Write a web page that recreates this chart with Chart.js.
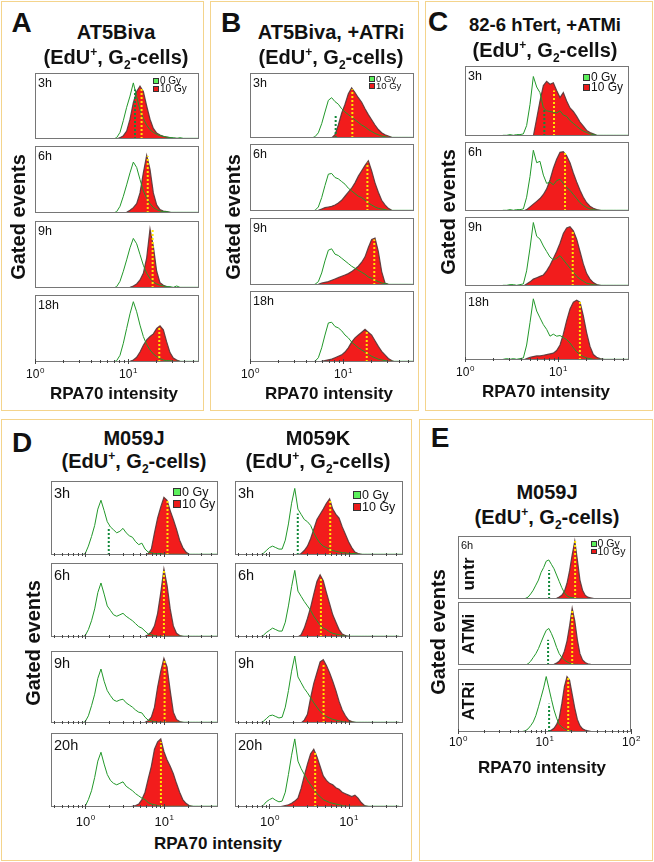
<!DOCTYPE html>
<html>
<head>
<meta charset="utf-8">
<script src="https://cdn.jsdelivr.net/npm/chart.js@4.4.1/dist/chart.umd.min.js"></script>
<style>
  body { margin: 0; background: #fff; font-family: "Liberation Sans", Arial, sans-serif; color: #111; }
  #page { position: relative; width: 654px; height: 862px; overflow: hidden; }
  .box { position: absolute; border: 1.5px solid #f4d48c; box-sizing: border-box; }
  .c { position: absolute; white-space: nowrap; font-weight: bold; transform: translate(-50%, -50%); line-height: 1; }
  .row { position: absolute; white-space: nowrap; line-height: 1; }
  sup, sub { font-size: 0.6em; line-height: 0; }
  canvas { position: absolute; }
</style>
</head>
<body>
<div id="page"></div>
<script>
const n = null;
const doses = ['0 Gy', '10 Gy'];

// RPA70 intensity bins (bin centres, log axis)
const binsABC = [2.19, 2.38, 2.58, 2.81, 3.05, 3.31, 3.59, 3.90, 4.24, 4.60, 5.00, 5.43, 5.90, 6.40, 6.96, 7.55, 8.20, 8.91, 9.67, 10.51,
  11.41, 12.39, 13.46, 14.62, 15.88, 17.25, 18.73, 20.34, 22.09, 23.99, 26.06, 28.29, 30.73, 33.37, 36.24, 39.36, 42.75, 46.42, 50.42, 54.76, 58.0];
const binsD = [0.759, 0.832, 0.912, 1.0, 1.096, 1.202, 1.318, 1.445, 1.585, 1.738, 1.905, 2.089, 2.291, 2.512, 2.754, 3.020, 3.311, 3.631, 3.981, 4.365,
  4.786, 5.248, 5.754, 6.310, 6.918, 7.586, 8.318, 9.120, 10.0, 10.96, 12.02, 13.18, 14.45, 15.85, 17.38, 19.05, 20.89, 22.91, 25.12, 27.54,
  30.20, 33.11, 36.31, 39.81, 43.65, 47.86];
const binsE = [5.25, 5.62, 6.03, 6.46, 6.92, 7.41, 7.94, 8.51, 9.12, 9.77, 10.47, 11.22, 12.02, 12.88, 13.80, 14.79, 15.85, 16.98, 18.20, 19.50,
  20.89, 22.39, 23.99, 25.70, 27.54, 29.51, 31.62, 33.88, 36.31, 38.90, 41.69];

// tick values
const ticksABC = [1, 2, 3, 4, 5, 6, 7, 8, 9, 10, 20, 30, 40, 50];
const ticksD = [0.4, 0.5, 0.6, 0.7, 0.8, 0.9, 1, 2, 3, 4, 5, 6, 7, 8, 9, 10, 20, 30, 40];
const ticksE = [1, 2, 3, 4, 5, 6, 7, 8, 9, 10, 20, 30, 40, 50, 60, 70, 80, 90, 100];
const majorTicks = [1, 10, 100];

// A: AT5Biva (events, % of frame height)
const rowsA = ['3h', '6h', '9h', '18h'];
const a3g = [n,n,n,n,n,n,n,n,n,n,n,n,n,n, 0,2,10,28,48,65,85,64,44,31,21,14,10,7,5,4,3,2,2,1,2,1,1,1,1,1,1];
const a3r = [n,n,n,n,n,n,n,n,n,n,n,n,n,n,n, 0,2,5,12,30,55,72,80,72,50,30,16,9,6,4,3,2,1,1,0, n,n,n,n,n,n];
const a6g = [n,n,n,n,n,n,n,n,n,n,n,n,n,n, 0,2,10,25,42,60,76,68,50,33,22,14,8,5,3,2,2,1,1,1,1,1,1,1,1,1,1];
const a6r = [n,n,n,n,n,n,n,n,n,n,n,n,n,n,n,n,n, 0,1,4,8,14,30,60,86,65,30,12,5,3,2,1,0, n,n,n,n,n,n,n,n];
const a9g = [n,n,n,n,n,n,n,n,n,n,n,n,n,n, 0,2,10,25,42,60,74,66,50,34,22,14,9,6,4,3,2,2,1,3,1,1,1,1,1,1,1];
const a9r = [n,n,n,n,n,n,n,n,n,n,n,n,n,n,n,n,n,n, 0,1,3,6,12,22,45,88,62,25,8,4,2,1,0, n,n,n,n,n,n,n,n];
const a18g = [n,n,n,n,n,n,n,n,n,n,n,n,n,n, 0,2,10,28,50,72,90,75,55,38,26,18,12,8,5,3,2,2,1,1,1,1,1,1,1,1,1];
const a18r = [n,n,n,n,n,n,n,n,n,n,n,n,n,n,n,n,n,n, 0,1,3,7,15,25,33,38,42,50,54,48,30,14,6,3,1,0, n,n,n,n,n];
const medYA = [14.0, 16.3, 18.4, 21.7], medYHA = [78, 85, 88, 54];
const medGA = [11.9, n, n, n], medGHA = [75, n, n, n];

// B: AT5Biva, +ATRi
const rowsB = ['3h', '6h', '9h', '18h'];
const b3g = [n,n,n,n,n,n,n,n,n, 0,2,8,22,40,58,62,56,52,45,40,36,32,28,24,20,17,13,10,7,5,3,2,1,1,1,1,1,1,1,1,1];
const b3r = [n,n,n,n,n,n,n,n,n,n,n,n,n,n,n, 0,5,20,38,52,68,77,70,62,55,45,36,28,20,13,8,5,3,1,0, n,n,n,n,n,n];
const b6g = [n,n,n,n,n,n,n,n,n, 0,1,6,20,38,55,56,50,48,44,40,34,30,26,22,20,16,12,9,6,4,3,2,1,1,1,1,1,1,1,1,1];
const b6r = [n,n,n,n,n,n,n,n,n,n, 0,1,3,5,6,7,9,12,16,22,28,34,42,52,60,68,75,60,42,28,16,9,4,1,0, n,n,n,n,n,n];
const b9g = [n,n,n,n,n,n,n,n,n, 0,1,5,18,36,52,54,46,44,40,36,32,28,25,22,19,16,12,10,7,5,3,2,1,1,1,1,1,1,1,1,1];
const b9r = [n,n,n,n,n,n,n,n,n,n, 0,1,3,4,5,7,9,11,13,15,17,20,24,28,34,42,56,68,70,50,20,3,1,0, n,n,n,n,n,n,n];
const b18g = [n,n,n,n,n,n,n,n,n, 0,1,6,20,38,55,56,50,48,44,38,34,28,24,20,17,14,11,8,6,4,3,2,1,1,1,1,1,1,1,1,1];
const b18r = [n,n,n,n,n,n,n,n,n,n,n, 0,1,2,3,4,6,8,10,14,20,28,34,38,42,46,42,38,30,22,15,10,5,2,0, n,n,n,n,n,n];
const medYB = [12.6, 18.3, 21.7, 18.0], medYHB = [75, 72, 68, 45];
const medGB = [8.34, n, n, n], medGHB = [35, n, n, n];

// C: 82-6 hTert, +ATMi
const rowsC = ['3h', '6h', '9h', '18h'];
const c3g = [n, 0,1,1,2,1,2,2,3,15,45,85,70,62,40,36,35,34,33,36,30,28,22,18,14,10,7,5,3,2,1,1,1,1,1,1,1,1,1,1,1];
const c3r = [n,n,n,n,n,n,n,n,n,n,n, 0,25,50,72,78,74,76,65,55,62,50,40,35,28,20,14,8,5,3,1,0, n,n,n,n,n,n,n,n,n];
const c6g = [n, 0,1,1,2,1,2,2,3,20,50,88,70,72,52,40,42,38,44,46,40,34,30,24,18,12,8,5,3,2,1,1,1,1,1,1,1,1,1,1,1];
const c6r = [n,n,n,n,n,n,n,n, 0,2,6,10,14,18,24,32,45,62,75,85,86,80,70,55,42,30,20,12,7,4,2,1,0, n,n,n,n,n,n,n,n];
const c9g = [n, 0,1,1,2,2,1,2,3,22,55,92,72,68,58,50,42,38,40,44,38,32,26,20,14,10,7,4,3,2,1,1,1,1,1,1,1,1,1,1,1];
const c9r = [n,n,n,n,n,n,n,n, 0,3,6,10,12,14,16,22,30,40,50,62,76,84,86,80,68,50,32,18,10,5,2,1,0, n,n,n,n,n,n,n,n];
const c18g = [n, 0,1,2,1,2,1,2,3,22,55,90,72,62,52,45,35,38,35,36,33,30,25,18,12,8,5,3,2,1,1,1,1,1,1,1,1,1,1,1,1];
const c18r = [n,n,n,n,n,n,n,n, 0,2,4,5,6,6,7,8,9,10,14,22,38,58,75,85,88,85,65,40,20,8,4,2,1,0, n,n,n,n,n,n,n];
const medYC = [9.06, 11.9, 14.4, 17.2], medYHC = [65, 84, 80, 86];
const medGC = [7.13, n, n, n], medGHC = [37, n, n, n];

// D: M059J and M059K
const rowsD = ['3h', '6h', '9h', '20h'];
const dj3g = [n,n, 0,2,12,25,40,62,74,60,45,38,34,30,32,36,30,26,24,18,14,16,8,4,3,2,2,2,1, 1,1,1,1,1,1,1,1,1,1,1,1,1,1,1,1,1];
const dj3r = [n,n,n,n,n,n,n,n,n,n,n,n,n,n,n,n,n,n,n,n,n,n, 0,2,8,30,50,65,78,74,60,48,35,20,10,4,1,0, n,n,n,n,n,n,n,n];
const dj6g = [n,n, 0,2,10,22,38,60,73,58,42,36,30,28,30,32,28,25,22,18,14,12,8,4,3,2,1,1,1, 1,1,1,1,1,1,1,1,1,1,1,1,1,1,1,1,1];
const dj6r = [n,n,n,n,n,n,n,n,n,n,n,n,n,n,n,n,n,n,n,n,n, 0,1,3,7,15,32,60,92,70,38,15,5,2,1,0, n,n,n,n,n,n,n,n,n,n];
const dj9g = [n,n, 0,2,10,24,40,62,75,58,45,38,32,30,32,33,28,25,22,18,15,14,8,4,3,2,1,1,1, 1,1,1,1,1,1,1,1,1,1,1,1,1,1,1,1,1];
const dj9r = [n,n,n,n,n,n,n,n,n,n,n,n,n,n,n,n,n,n,n,n,n, 0,1,3,8,22,50,72,90,78,45,15,5,2,1,0, n,n,n,n,n,n,n,n,n,n];
const dj20g = [n,n, 0,1,10,22,40,62,74,58,44,36,32,30,32,34,28,25,22,18,15,12,10,6,4,3,2,1,1, 1,1,1,1,1,1,1,1,1,1,1,1,1,1,1,1,1];
const dj20r = [n,n,n,n,n,n,n,n,n,n,n,n,n,n,n,n,n, 0,1,2,4,10,20,38,55,78,88,92,75,64,55,45,32,20,10,5,2,1,0, n,n,n,n,n,n,n];
const medYDJ = [11.1, 10.0, 10.2, 9.16], medYHDJ = [75, 90, 88, 88];
const medGDJ = [1.99, n, n, n], medGHDJ = [38, n, n, n];

const dk3g = [0,2,6,10,12,10,8,8,20,42,70,90,62,55,48,45,40,30,22,16,12,10,8,6,5,4,3,3,2,2,2, 1,1,1,1,1,1,1,1,1,1,1,1,1,1,1];
const dk3r = [n,n,n,n,n,n,n,n,n,n,n,n, 0,2,6,12,22,35,48,55,62,70,76,62,55,50,38,28,18,10,4,2,1,0, n,n,n,n,n,n,n,n,n,n,n,n];
const dk6g = [0,2,6,9,12,10,8,8,20,42,68,90,62,55,48,42,36,28,22,16,12,10,7,5,4,3,2, 1,1,1,1,1,1,1,1,1,1,1,1,1,1,1,1,1,1];
const dk6r = [n,n,n,n,n,n,n,n,n,n,n,n, 0,3,12,25,40,58,75,84,76,60,45,30,20,10,4,2,1,0, n,n,n,n,n,n,n,n,n,n,n,n,n,n,n,n];
const dk9g = [0,2,6,10,11,9,7,8,22,45,72,93,64,56,48,42,35,28,22,16,12,9,7,5,4,3,2, 1,1,1,1,1,1,1,1,1,1,1,1,1,1,1,1,1,1];
const dk9r = [n,n,n,n,n,n,n,n,n,n,n,n,n, 0,4,12,35,55,70,85,88,80,70,58,45,30,18,10,4,2,1,0, n,n,n,n,n,n,n,n,n,n,n,n,n,n];
const dk20g = [0,2,7,10,12,9,7,8,20,44,70,92,62,52,44,36,30,24,18,14,10,8,6,5,4,3,2, 1,1,1,1,1,1,1,1,1,1,1,1,1,1,1,1,1,1];
const dk20r = [n,n,n,n,n,n, 0,1,2,3,5,8,12,25,42,58,72,78,68,55,42,36,32,30,26,24,20,18,16,14,16,12,6,2,1,0, n,n,n,n,n,n,n,n,n,n];
const medYDK = [5.86, 4.47, 4.83, 3.78], medYHDK = [73, 80, 82, 75];
const medGDK = [2.28, n, n, n], medGHDK = [56, n, n, n];

// E: M059J, 6h, untr / ATMi / ATRi
const rowsE = ['untr', 'ATMi', 'ATRi'];
const eug = [n, 0,1,3,8,14,22,30,42,50,60,62,55,48,38,28,18,10,5,3,2,2,1,1,1,0, n,n,n,n,n];
const eur = [n,n,n,n,n,n,n,n,n,n,n,n,n, 0,1,3,6,12,25,45,70,92,62,30,14,6,3,2,1,0, n];
const eag = [n,n, 0,2,6,12,18,26,36,46,55,58,50,40,28,18,12,8,5,3,2,1,1,0, n,n,n,n,n,n,n];
const ear = [n,n,n,n,n,n,n,n,n,n,n,n, 0,1,3,6,12,22,38,62,90,70,40,18,8,4,2,1,0, n,n];
const etg = [0,1,2,5,10,16,26,40,55,70,88,70,52,35,22,12,8,5,3,2,1,1,0, n,n,n,n,n,n,n,n];
const etr = [n,n,n,n,n,n,n,n,n,n, 0,1,3,6,12,22,45,72,88,82,60,38,20,10,5,3,2,1,0, n,n];
const medYE = [22.6, 20.9, 18.8], medYHE = [92, 88, 88];
const medGE = [11.3, 11.0, 11.3], medGHE = [46, 40, 45];

const page = document.getElementById('page');
const PX = 14;
const FONT = '"Liberation Sans", Arial, sans-serif';

function frameTicks(ax) {
  return {
    id: 'frameTicks',
    afterDatasetsDraw(c) {
      const { ctx, chartArea: a } = c, sx = c.scales.x;
      ctx.save();
      ctx.strokeStyle = '#767676';
      ctx.lineWidth = 1;
      ctx.strokeRect(a.left + 0.5, a.top + 0.5, a.right - a.left - 1, a.bottom - a.top - 1);
      if (ax.ticks) {
        ctx.strokeStyle = '#444';
        ax.ticks.forEach(v => {
          const x = Math.round(sx.getPixelForValue(v)) + 0.5;
          const len = majorTicks.includes(v) ? 3 : 2;
          ctx.beginPath();
          ctx.moveTo(x, a.bottom - len);
          ctx.lineTo(x, a.bottom + len - 1);
          ctx.stroke();
        });
      }
      if (ax.labels) {
        ctx.fillStyle = '#111';
        ctx.textBaseline = 'middle';
        ctx.textAlign = 'left';
        majorTicks.filter(v => v >= sx.min * 0.999 && v <= sx.max * 1.001).forEach(v => {
          const x = sx.getPixelForValue(v), e = String(Math.round(Math.log10(v)));
          const f1 = ax.fs + 'px ' + FONT, f2 = Math.round(ax.fs * 0.65) + 'px ' + FONT;
          ctx.font = f1;
          const w1 = ctx.measureText('10').width;
          ctx.font = f2;
          const w2 = ctx.measureText(e).width;
          const x0 = x - (w1 + w2) / 2, y0 = a.bottom + ax.dy;
          ctx.font = f1;
          ctx.fillText('10', x0, y0);
          ctx.font = f2;
          ctx.fillText(e, x0 + w1 + 0.5, y0 - ax.fs * 0.35);
        });
      }
      ctx.restore();
    }
  };
}

function hist(fr, bins, green, red, med, xr, ax) {
  const [l, t, r, b] = fr;
  const pb = ax.labels ? 26 : 4;
  const w = r - l + 2 * PX, h = b - t + 4 + pb;
  const cv = document.createElement('canvas');
  cv.width = w;
  cv.height = h;
  cv.style.left = (l - PX) + 'px';
  cv.style.top = (t - 4) + 'px';
  page.appendChild(cv);
  const pts = v => bins.map((x, i) => ({ x, y: v[i] }));
  const vline = (x, y, col) => ({ data: [{ x, y: 0 }, { x, y }], borderColor: col, borderWidth: 2, borderDash: [2, 2], fill: false });
  const ds = [];
  if (med[0] != null) ds.push(vline(med[0], med[1], '#ffe600'));
  if (med[2] != null) ds.push(vline(med[2], med[3], '#12893a'));
  ds.push({ label: doses[0], data: pts(green), borderColor: '#22982a', borderWidth: 1, fill: false });
  ds.push({ label: doses[1], data: pts(red), borderColor: 'rgba(85,55,55,0.9)', borderWidth: 1.2, backgroundColor: '#f21c1c', fill: 'origin' });
  new Chart(cv, {
    type: 'line',
    data: { datasets: ds },
    options: {
      responsive: false, animation: false, devicePixelRatio: 1, events: [],
      layout: { padding: { left: PX, right: PX, top: 4, bottom: pb } },
      elements: { point: { radius: 0 }, line: { tension: 0 } },
      plugins: { legend: { display: false }, tooltip: { enabled: false } },
      scales: {
        x: { type: 'logarithmic', min: xr[0], max: xr[1], display: false },
        y: { min: 0, max: 100, display: false }
      }
    },
    plugins: [frameTicks(ax)]
  });
}

function el(cls, css, html) {
  const d = document.createElement('div');
  d.className = cls;
  d.style.cssText = css;
  d.innerHTML = html;
  page.appendChild(d);
}
const txt = (x, y, fs, html, rot) => el('c', `left:${x}px;top:${y}px;font-size:${fs}px;` + (rot ? 'transform:translate(-50%,-50%) rotate(-90deg);' : ''), html);

function legend(x, y, sq, gap, fs) {
  ['#5cf05c', '#ec1b1b'].forEach((col, i) => {
    el('row', `left:${x}px;top:${y + i * gap}px;font-size:${fs}px;line-height:${sq}px;`,
      `<span style="display:inline-block;box-sizing:border-box;width:${sq}px;height:${sq}px;background:${col};border:1px solid #333;vertical-align:top;margin-right:1px"></span>${doses[i]}`);
  });
}

// panel boxes
[[1, 1, 203, 410], [210, 1, 209, 410], [425, 1, 228, 410], [1, 419, 411, 442], [419, 419, 234, 442]].forEach(([l, t, w, h]) =>
  el('box', `left:${l}px;top:${t}px;width:${w}px;height:${h}px;`, ''));

const sub2 = '(EdU<sup>+</sup>, G<sub>2</sub>-cells)';

// panels A, B, C
const colABC = [
  { x: [35, 199], ys: [[73, 139], [146, 213], [221, 288], [295, 362]], g: [a3g, a6g, a9g, a18g], r: [a3r, a6r, a9r, a18r], my: medYA, myh: medYHA, mg: medGA, mgh: medGHA, rows: rowsA },
  { x: [250, 414], ys: [[73, 138], [144, 211], [218, 285], [291, 362]], g: [b3g, b6g, b9g, b18g], r: [b3r, b6r, b9r, b18r], my: medYB, myh: medYHB, mg: medGB, mgh: medGHB, rows: rowsB },
  { x: [465, 629], ys: [[66, 136], [142, 211], [217, 286], [292, 360]], g: [c3g, c6g, c9g, c18g], r: [c3r, c6r, c9r, c18r], my: medYC, myh: medYHC, mg: medGC, mgh: medGHC, rows: rowsC }
];
colABC.forEach(p => {
  p.ys.forEach((y, i) => {
    const last = i === p.ys.length - 1;
    hist([p.x[0], y[0], p.x[1], y[1]], binsABC, p.g[i], p.r[i], [p.my[i], p.myh[i], p.mg[i], p.mgh[i]], [1, 58],
      { ticks: last ? ticksABC : null, labels: last, fs: 12, dy: 13 });
  });
});

// panel D
const colD = [
  { x: [51, 218], g: [dj3g, dj6g, dj9g, dj20g], r: [dj3r, dj6r, dj9r, dj20r], my: medYDJ, myh: medYHDJ, mg: medGDJ, mgh: medGHDJ },
  { x: [235, 403], g: [dk3g, dk6g, dk9g, dk20g], r: [dk3r, dk6r, dk9r, dk20r], my: medYDK, myh: medYHDK, mg: medGDK, mgh: medGHDK }
];
const ysD = [[481, 555], [563, 637], [651, 723], [733, 807]];
colD.forEach(p => {
  ysD.forEach((y, i) => {
    hist([p.x[0], y[0], p.x[1], y[1]], binsD, p.g[i], p.r[i], [p.my[i], p.myh[i], p.mg[i], p.mgh[i]], [0.367, 48.7],
      { ticks: ticksD, labels: i === 3, fs: 13, dy: 15 });
  });
});

// panel E
const ysE = [[536, 599], [602, 665], [669, 732]];
const gE = [eug, eag, etg], rE = [eur, ear, etr];
ysE.forEach((y, i) => {
  hist([458, y[0], 631, y[1]], binsE, gE[i], rE[i], [medYE[i], medYHE[i], medGE[i], medGHE[i]], [1, 100],
    { ticks: i === 2 ? ticksE : null, labels: i === 2, fs: 12, dy: 11 });
});

// letters
[['A', 21.5, 22.5], ['B', 231, 22.5], ['C', 438, 22], ['D', 22, 442.5], ['E', 440, 438]].forEach(([s, x, y]) => txt(x, y, 28, s));

// titles
txt(116, 32, 20, 'AT5Biva'); txt(116, 57, 20, sub2);
txt(331, 32, 20, 'AT5Biva, +ATRi'); txt(331, 57, 20, sub2);
txt(545, 25, 18.5, '82-6 hTert, +ATMi'); txt(545, 50, 20, sub2);
txt(134, 438, 20, 'M059J'); txt(134, 461, 20, sub2);
txt(318, 438, 20, 'M059K'); txt(318, 461, 20, sub2);
txt(547, 492, 20, 'M059J'); txt(547, 517, 20, sub2);

// axis titles
[[18, 217], [233, 217], [448, 212], [33, 643], [438, 632]].forEach(([x, y]) => txt(x, y, 20, 'Gated events', true));
[[114, 393], [329, 393], [546, 391], [218, 843], [542, 767]].forEach(([x, y]) => txt(x, y, 17, 'RPA70 intensity'));

// row labels
colABC.forEach(p => p.ys.forEach((y, i) => el('row', `left:${p.x[0] + 3}px;top:${y[0] + 4}px;font-size:12.5px;`, p.rows[i])));
colD.forEach(p => ysD.forEach((y, i) => el('row', `left:${p.x[0] + 3}px;top:${y[0] + 5}px;font-size:14.5px;`, rowsD[i])));
el('row', 'left:461px;top:540px;font-size:11px;', '6h');
ysE.forEach((y, i) => txt(468, (y[0] + y[1]) / 2 + (i === 0 ? 6 : 0), 17, rowsE[i], true));

// legends
legend(153, 78, 6, 8, 10);
legend(369, 76, 6, 7, 9.5);
legend(583, 74, 7, 9.5, 12);
legend(173, 488, 8, 12, 12.5);
legend(353, 491, 8, 12, 12.5);
legend(591, 541, 5.5, 7.5, 10.5);
</script>
</body>
</html>
